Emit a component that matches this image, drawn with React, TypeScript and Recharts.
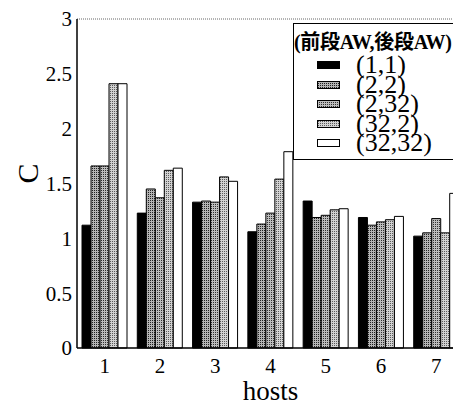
import React from "react";
import { BarChart, Bar, XAxis, YAxis, ReferenceLine, Legend } from "recharts";

const hosts = ["1", "2", "3", "4", "5", "6", "7"];
const s11 = [1.12, 1.23, 1.33, 1.06, 1.34, 1.19, 1.02];
const s22 = [1.66, 1.45, 1.34, 1.13, 1.19, 1.12, 1.05];
const s232 = [1.66, 1.37, 1.33, 1.23, 1.21, 1.15, 1.18];
const s322 = [2.41, 1.62, 1.56, 1.54, 1.26, 1.17, 1.05];
const s3232 = [2.41, 1.64, 1.52, 1.79, 1.27, 1.2, 1.41];
const seriesNames = ["(1,1)", "(2,2)", "(2,32)", "(32,2)", "(32,32)"];
const legendTitle = "(前段AW,後段AW)";
const yTicks = [0, 0.5, 1, 1.5, 2, 2.5, 3];

const data = hosts.map((h, i) => ({
  host: h,
  a: s11[i],
  b: s22[i],
  c: s232[i],
  d: s322[i],
  e: s3232[i],
}));

const fills = ["#000", "url(#p22)", "url(#p232)", "url(#p322)", "#fff"];
const keys = ["a", "b", "c", "d", "e"];
const serif = '"Liberation Serif", "Times New Roman", Times, serif';

const LegendBox = () => (
  <div
    style={{
      position: "absolute",
      left: 293,
      top: 23,
      width: 166,
      height: 137,
      border: "1px solid #000",
      background: "#fff",
      boxSizing: "border-box",
      fontFamily: serif,
      color: "#000",
    }}
  >
    <div
      style={{
        position: "absolute",
        left: 0,
        top: 7,
        fontSize: 20,
        fontWeight: "bold",
        fontFamily: '"Liberation Serif", "Noto Sans CJK JP", serif',
        whiteSpace: "nowrap",
        lineHeight: "22px",
        letterSpacing: -0.3,
      }}
    >
      {legendTitle}
    </div>
    {seriesNames.map((n, i) => (
      <div
        key={n}
        style={{ position: "absolute", left: 0, top: 31 + i * 19.5, height: 19, width: 160 }}
      >
        <svg width={30} height={19} style={{ position: "absolute", left: 22, top: 0 }}>
          <rect x={1.5} y={6.5} width={22} height={7} fill={fills[i]} stroke="#000" strokeWidth={1} />
        </svg>
        <div
          style={{
            position: "absolute",
            left: 62,
            top: 0,
            fontSize: 26,
            lineHeight: "19px",
            height: 19,
            whiteSpace: "nowrap",
            fontFamily: serif,
          }}
        >
          {n}
        </div>
      </div>
    ))}
  </div>
);

export default function App() {
  return (
    <div
      style={{
        marginLeft: -8,
        marginTop: -8,
        width: 470,
        height: 405,
        background: "#fff",
        position: "relative",
        fontFamily: serif,
      }}
    >
      <BarChart
        width={470}
        height={405}
        data={data}
        margin={{ top: 19, right: 6, left: 30, bottom: 27 }}
        barGap={0}
        barSize={9}
        style={{ fontFamily: serif }}
      >
        <defs>
          <pattern id="p22" width="2" height="2" patternUnits="userSpaceOnUse">
            <rect width="2" height="2" fill="#b4b4b4" />
            <rect x="0" y="0" width="1" height="1" fill="#202020" />
          </pattern>
          <pattern id="p232" width="2" height="2" patternUnits="userSpaceOnUse">
            <rect width="2" height="2" fill="#bdbdbd" />
            <rect x="1" y="0" width="1" height="1" fill="#303030" />
          </pattern>
          <pattern id="p322" width="2" height="2" patternUnits="userSpaceOnUse">
            <rect width="2" height="2" fill="#d2d2d2" />
            <rect x="0" y="1" width="1" height="1" fill="#5a5a5a" />
          </pattern>
        </defs>
        <XAxis
          dataKey="host"
          height={30}
          axisLine={{ stroke: "#000", strokeWidth: 1.5 }}
          tickLine={false}
          tickSize={0}
          tickMargin={10}
          tick={{ fill: "#000", fontSize: 21, fontFamily: serif }}
          label={{ value: "hosts", position: "bottom", offset: 3, fill: "#000", fontSize: 27, fontFamily: serif }}
        />
        <YAxis
          width={47}
          domain={[0, 3]}
          ticks={yTicks}
          interval={0}
          axisLine={{ stroke: "#000", strokeWidth: 1.5 }}
          tickLine={false}
          tickSize={0}
          tickMargin={5}
          tick={{ fill: "#000", fontSize: 21, fontFamily: serif }}
          label={{ value: "C", angle: -90, position: "insideLeft", offset: -3, fill: "#000", fontSize: 30, fontFamily: serif }}
        />
        <ReferenceLine y={3} stroke="#666" strokeDasharray="1 1" strokeWidth={1} />
        {keys.map((k, i) => (
          <Bar key={k} dataKey={k} name={seriesNames[i]} fill={fills[i]} stroke="#000" strokeWidth={1} isAnimationActive={false} />
        ))}
        <Legend content={() => <LegendBox />} wrapperStyle={{ position: "absolute", left: 0, top: 0, width: 0, height: 0 }} />
      </BarChart>
    </div>
  );
}
